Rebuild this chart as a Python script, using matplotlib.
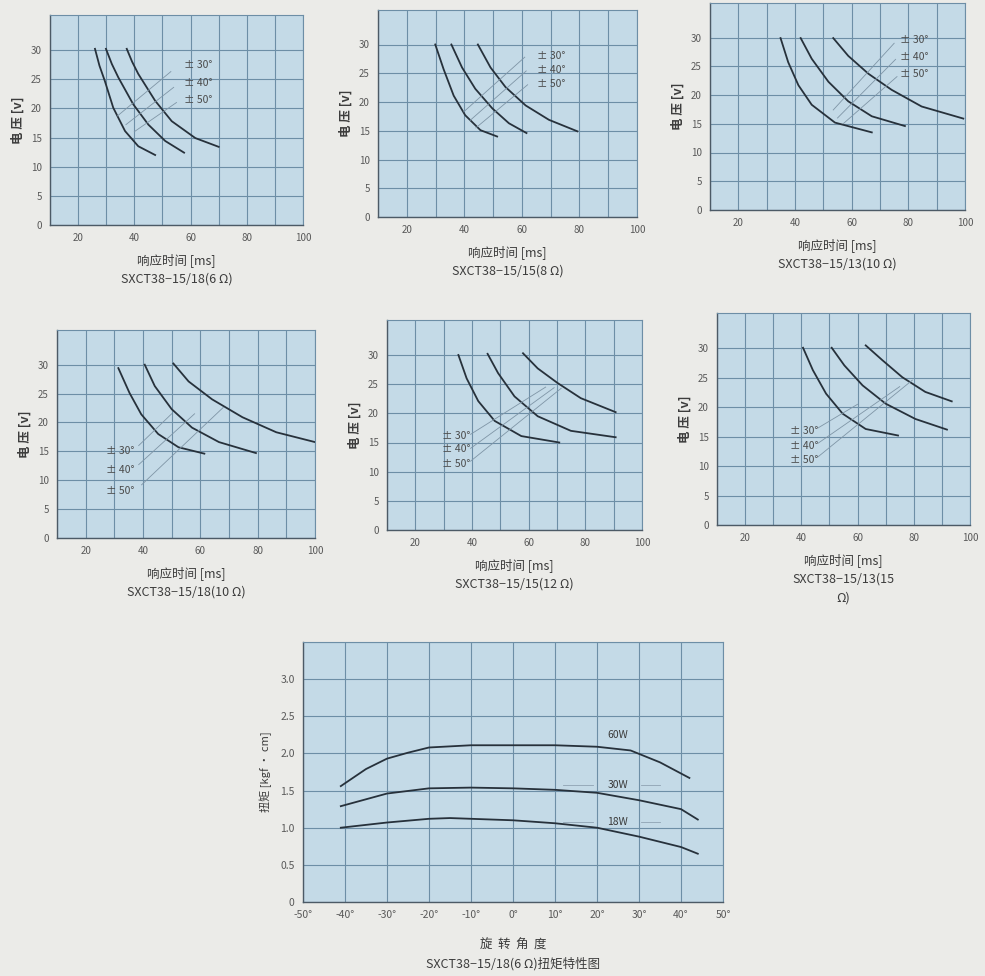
import matplotlib
matplotlib.use("Agg")
import matplotlib.pyplot as plt
from matplotlib.ticker import MultipleLocator, FixedLocator

plt.rcParams['font.family'] = ['Noto Sans CJK SC', 'DejaVu Sans']

# ---- response-time charts: (x ms, y volts) ----
c1_x = [[26.0, 27.6, 29.5, 32.5, 36.7, 41.4, 47.4],
        [29.9, 32.0, 34.3, 39.6, 45.0, 51.0, 57.7],
        [37.3, 39.2, 41.4, 47.4, 53.3, 61.7, 70.0]]
c1_y = [[30.2, 27.3, 24.7, 20.1, 16.1, 13.5, 12.0],
        [30.2, 27.6, 25.3, 20.7, 17.2, 14.4, 12.4],
        [30.2, 28.0, 25.9, 21.3, 17.8, 14.9, 13.4]]

c2_x = [[29.9, 32.8, 36.3, 40.3, 45.6, 51.4],
        [35.5, 39.2, 43.8, 49.7, 55.5, 61.6],
        [44.7, 49.1, 54.3, 61.3, 69.4, 79.3]]
c2_y = [[30.0, 25.7, 21.1, 17.7, 15.1, 14.0],
        [30.0, 26.0, 22.3, 18.9, 16.3, 14.6],
        [30.0, 26.0, 22.6, 19.4, 16.9, 14.9]]

c3_x = [[34.9, 37.6, 41.2, 45.9, 54.1, 67.1],
        [42.0, 45.9, 51.8, 58.8, 67.1, 78.8],
        [53.5, 58.8, 65.9, 74.1, 84.7, 99.4]]
c3_y = [[29.9, 25.7, 21.7, 18.3, 15.2, 13.5],
        [29.9, 26.3, 22.3, 18.9, 16.3, 14.6],
        [29.9, 26.8, 23.7, 20.9, 18.0, 15.9]]

c4_x = [[31.4, 35.3, 39.4, 45.3, 52.4, 61.4],
        [40.6, 44.1, 50.0, 57.1, 66.5, 79.4],
        [50.6, 55.9, 64.1, 74.7, 86.5, 100.0]]
c4_y = [[29.4, 25.1, 21.4, 18.0, 15.7, 14.6],
        [30.0, 26.3, 22.3, 19.1, 16.6, 14.7],
        [30.2, 27.1, 24.0, 20.9, 18.3, 16.6]]

c5_x = [[35.2, 38.1, 42.2, 48.0, 57.4, 70.8],
        [45.5, 49.2, 55.0, 63.2, 74.9, 90.7],
        [58.0, 63.2, 70.2, 78.4, 90.7]]
c5_y = [[30.0, 26.0, 22.1, 18.7, 16.1, 15.0],
        [30.2, 26.9, 22.9, 19.5, 17.0, 15.9],
        [30.3, 27.7, 25.2, 22.6, 20.2]]

c6_x = [[40.6, 44.1, 48.8, 54.7, 62.9, 74.4],
        [50.8, 55.3, 61.8, 70.0, 80.6, 91.8],
        [62.9, 68.8, 75.9, 84.1, 93.5]]
c6_y = [[30.1, 26.3, 22.3, 18.9, 16.3, 15.2],
        [30.1, 27.1, 23.7, 20.6, 18.0, 16.2],
        [30.5, 28.0, 25.1, 22.6, 21.0]]

angle_labels = ["± 30°", "± 40°", "± 50°"]
y_ticks = [0, 5, 10, 15, 20, 25, 30]
x_ticks = [20, 40, 60, 80, 100]

models = ["SXCT38−15/18(6 Ω)", "SXCT38−15/15(8 Ω)", "SXCT38−15/13(10 Ω)",
          "SXCT38−15/18(10 Ω)", "SXCT38−15/15(12 Ω)", "SXCT38−15/13(15\nΩ)"]

# ---- torque chart ----
angle = [-41, -35, -30, -25, -20, -10, 0, 10, 20, 28, 35, 42]
torque_60w = [1.56, 1.79, 1.93, 2.01, 2.08, 2.11, 2.11, 2.11, 2.09, 2.04, 1.88, 1.67]
angle_30 = [-41, -30, -20, -10, 0, 10, 20, 30, 40, 44]
torque_30w = [1.29, 1.46, 1.53, 1.54, 1.53, 1.51, 1.47, 1.37, 1.25, 1.11]
angle_18 = [-41, -30, -20, -15, -10, 0, 10, 20, 30, 40, 44]
torque_18w = [1.00, 1.07, 1.12, 1.13, 1.12, 1.10, 1.06, 1.00, 0.88, 0.74, 0.65]
torque_angle_ticks = [-50, -40, -30, -20, -10, 0, 10, 20, 30, 40, 50]

BG = '#ebebe8'
FACE = '#c4dae7'
GRID = '#6d8ea6'
CURVE = '#27313b'
TEXT = '#3c3c3c'

W, H = 985, 976
fig = plt.figure(figsize=(W / 100, H / 100), dpi=100, facecolor=BG)


def box(left, top, right, bottom):
    return [left / W, 1 - bottom / H, (right - left) / W, (bottom - top) / H]


def style(ax):
    ax.set_facecolor(FACE)
    ax.grid(True, which='both', color=GRID, lw=0.8)
    ax.set_axisbelow(True)
    ax.tick_params(which='both', length=0, labelsize=7, colors='#595959', pad=6)
    for s in ['top', 'right']:
        ax.spines[s].set_color(GRID)
        ax.spines[s].set_linewidth(0.8)
    for s in ['left', 'bottom']:
        ax.spines[s].set_color('#4c5a66')
        ax.spines[s].set_linewidth(1.0)


def small_chart(rect, xs, ys, model, labels_pos, leaders):
    ax = fig.add_axes(rect)
    style(ax)
    ax.set_xlim(10, 100)
    ax.set_ylim(0, 36)
    ax.xaxis.set_minor_locator(MultipleLocator(10))
    ax.set_xticks(x_ticks)
    ax.set_yticks(y_ticks)
    ax.yaxis.set_minor_locator(FixedLocator(y_ticks))
    for x, y in zip(xs, ys):
        ax.plot(x, y, color=CURVE, lw=1.3)
    for (start, end) in leaders:
        ax.plot([start[0], end[0]], [start[1], end[1]], color='#7f95a6', lw=0.6)
    for lab, (lx, ly) in zip(angle_labels, labels_pos):
        ax.text(lx, ly, lab, fontsize=7.5, color='#4a4a4a', va='center', ha='left')
    ax.set_ylabel("电 压 [v]", fontsize=9, color=TEXT, labelpad=4, fontweight='bold')
    ax.set_xlabel("响应时间 [ms]\n" + model, fontsize=9, color=TEXT,
                  labelpad=7, linespacing=1.6)
    return ax


small_chart(box(50, 15, 303, 225), c1_x, c1_y, models[0],
            [(57.5, 27.4), (57.5, 24.4), (57.5, 21.4)],
            [((34, 18.7), (53, 26.3)), ((37, 17.2), (54, 23.6)), ((40, 16.0), (55, 21.0))])
small_chart(box(378, 10, 637, 217), c2_x, c2_y, models[1],
            [(65.3, 28.0), (65.3, 25.6), (65.3, 23.1)],
            [((39.8, 18.3), (61, 27.8)), ((42, 16.8), (61.5, 25.4)), ((44, 15.5), (62, 23.0))])
small_chart(box(710, 3, 965, 210), c3_x, c3_y, models[2],
            [(77.1, 29.5), (77.1, 26.6), (77.1, 23.6)],
            [((53.5, 17.4), (75, 29.0)), ((55, 16.0), (75.5, 26.2)), ((57, 15.0), (76, 23.2))])
small_chart(box(57, 330, 315, 538), c4_x, c4_y, models[3],
            [(27.1, 15.0), (27.1, 11.7), (27.1, 8.1)],
            [((38.5, 16.0), (50, 21.5)), ((38.5, 12.7), (58, 21.5)), ((39.5, 9.2), (68, 22.6))])
small_chart(box(387, 320, 642, 530), c5_x, c5_y, models[4],
            [(29.3, 16.1), (29.3, 13.8), (29.3, 11.3)],
            [((39.5, 16.4), (66, 24.5)), ((39.5, 14.0), (69, 24.4)), ((39.5, 11.8), (71.5, 24.3))])
small_chart(box(717, 313, 970, 525), c6_x, c6_y, models[5],
            [(35.9, 16.0), (35.9, 13.4), (35.9, 11.0)],
            [((46, 16.5), (60, 20.5)), ((46, 13.9), (75, 23.5)), ((46, 11.6), (79.5, 24.6))])

# torque chart
ax = fig.add_axes(box(303, 642, 723, 902))
style(ax)
ax.set_xlim(-50, 50)
ax.set_ylim(0, 3.5)
ax.set_xticks(torque_angle_ticks)
ax.set_xticklabels([f"{v}°" for v in torque_angle_ticks])
ax.set_yticks([0, 0.5, 1.0, 1.5, 2.0, 2.5, 3.0])
ax.set_yticklabels(["0", "0.5", "1.0", "1.5", "2.0", "2.5", "3.0"])
ax.yaxis.set_minor_locator(MultipleLocator(0.5))
ax.tick_params(labelsize=7.5)
ax.plot(angle, torque_60w, color=CURVE, lw=1.3)
ax.plot(angle_30, torque_30w, color=CURVE, lw=1.3)
ax.plot(angle_18, torque_18w, color=CURVE, lw=1.3)
ax.text(22.5, 2.25, "60W", fontsize=7.5, color='#3a3a3a', va='center')
ax.text(22.5, 1.58, "30W", fontsize=7.5, color='#3a3a3a', va='center')
ax.text(22.5, 1.08, "18W", fontsize=7.5, color='#3a3a3a', va='center')
ax.plot([12, 19], [1.58, 1.58], color='#8fa3b3', lw=0.6)
ax.plot([30.5, 35], [1.58, 1.58], color='#8fa3b3', lw=0.6)
ax.plot([12, 19], [1.08, 1.08], color='#8fa3b3', lw=0.6)
ax.plot([30.5, 35], [1.08, 1.08], color='#8fa3b3', lw=0.6)
ax.set_ylabel("扭矩 [kgf · cm]", fontsize=8, color=TEXT, labelpad=6)
ax.set_xlabel("旋  转  角  度\nSXCT38−15/18(6 Ω)扭矩特性图", fontsize=9, color=TEXT,
              labelpad=13, linespacing=1.5)

fig.savefig("out.png", dpi=100, facecolor=BG)
